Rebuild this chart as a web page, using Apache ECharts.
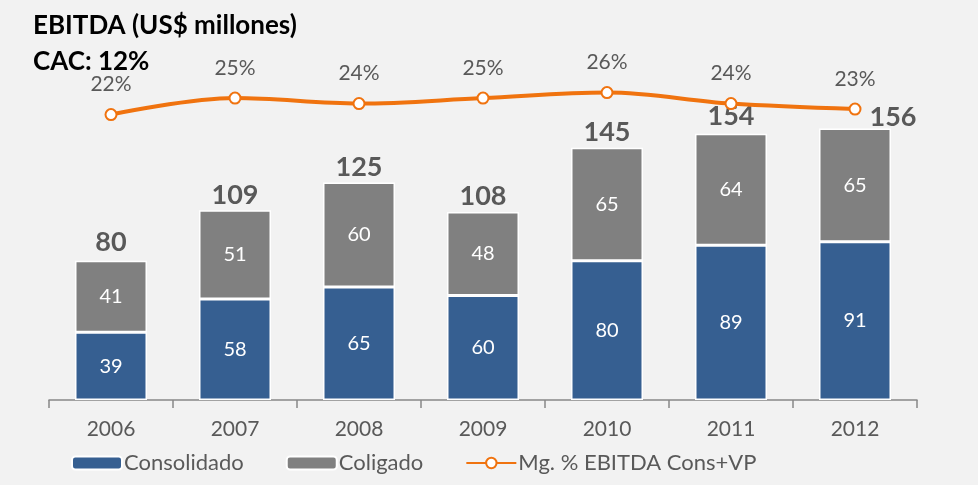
<!DOCTYPE html>
<html>
<head>
<meta charset="utf-8">
<script src="https://cdn.jsdelivr.net/npm/echarts@6/dist/echarts.min.js"></script>
<style>
  html, body { margin: 0; padding: 0; background: #f2f2f2; }
  #chart { width: 978px; height: 485px; }
</style>
</head>
<body>
<div id="chart"></div>
<script>
// datos
const years = ['2006', '2007', '2008', '2009', '2010', '2011', '2012'];
const consolidado = [39, 58, 65, 60, 80, 89, 91];
const coligado = [41, 51, 60, 48, 65, 64, 65];
const totales = [80, 109, 125, 108, 145, 154, 156];
const margen = [22, 25, 24, 25, 26, 24, 23];

const font = 'Lato, "Open Sans", sans-serif';
const gris = '#595959';
const azul = '#365f91';
const gris2 = '#808080';
const naranja = '#f0730f';

const myChart = echarts.init(document.getElementById('chart'));

const option = {
    backgroundColor: '#f2f2f2',
    textStyle: { fontFamily: font },
    title: [
        {
            text: 'EBITDA (US$ millones)',
            left: 28, top: 8,
            textStyle: { fontFamily: font, fontSize: 26, fontWeight: 'bold', color: '#000' }
        },
        {
            text: 'CAC: 12%',
            left: 28, top: 44,
            textStyle: { fontFamily: font, fontSize: 26, fontWeight: 'bold', color: '#000' }
        }
    ],
    legend: {
        data: ['Consolidado', 'Coligado', 'Mg. % EBITDA Cons+VP'],
        left: 66, top: 447,
        itemWidth: 50, itemHeight: 13,
        itemGap: 42,
        textStyle: { fontFamily: font, fontSize: 22, color: gris, padding: [0, 0, 0, -3] }
    },
    grid: { left: 49, right: 61, top: 52, bottom: 85 },
    xAxis: {
        type: 'category',
        data: years,
        axisLine: { lineStyle: { color: '#888', width: 1.5 } },
        axisTick: { show: true, length: 8, lineStyle: { color: '#888', width: 1.5 } },
        axisLabel: { fontFamily: font, fontSize: 21, color: gris, margin: 19 }
    },
    yAxis: [
        { type: 'value', min: 0, max: 200, show: false, splitLine: { show: false } },
        { type: 'value', min: -30, max: 33.4, show: false, splitLine: { show: false } }
    ],
    series: [
        {
            name: 'Consolidado',
            type: 'bar',
            stack: 'ebitda',
            barWidth: 72,
            data: consolidado,
            itemStyle: { color: azul, borderColor: '#fff', borderWidth: 1.5 },
            label: { show: true, position: 'inside', color: '#fff', fontSize: 20, fontFamily: font }
        },
        {
            name: 'Coligado',
            type: 'bar',
            stack: 'ebitda',
            barWidth: 72,
            data: coligado,
            itemStyle: { color: gris2, borderColor: '#fff', borderWidth: 1.5 },
            label: { show: true, position: 'inside', color: '#fff', fontSize: 20, fontFamily: font }
        },
        {
            name: 'Total',
            type: 'bar',
            barWidth: 72,
            barGap: '-100%',
            data: totales.map(function (v, i) {
                if (i === 0) {
                    return { value: v, label: { distance: 5 } };
                }
                if (i === totales.length - 1) {
                    return { value: v, label: { offset: [38, 4] } };
                }
                return v;
            }),
            itemStyle: { color: 'rgba(0,0,0,0)' },
            label: { show: true, position: 'top', distance: 2, color: gris, fontSize: 27, fontWeight: 'bold', fontFamily: font },
            silent: true
        },
        {
            name: 'Mg. % EBITDA Cons+VP',
            type: 'line',
            yAxisIndex: 1,
            smooth: 0.35,
            data: margen,
            symbol: 'circle',
            symbolSize: 11,
            color: naranja,
            lineStyle: { color: naranja, width: 4 },
            itemStyle: { color: '#fff', borderColor: naranja, borderWidth: 2 },
            label: { show: true, position: 'top', distance: 13, formatter: '{c}%', color: gris, fontSize: 21, fontFamily: font },
            z: 5
        }
    ]
};
myChart.setOption(option);
</script>
</body>
</html>
